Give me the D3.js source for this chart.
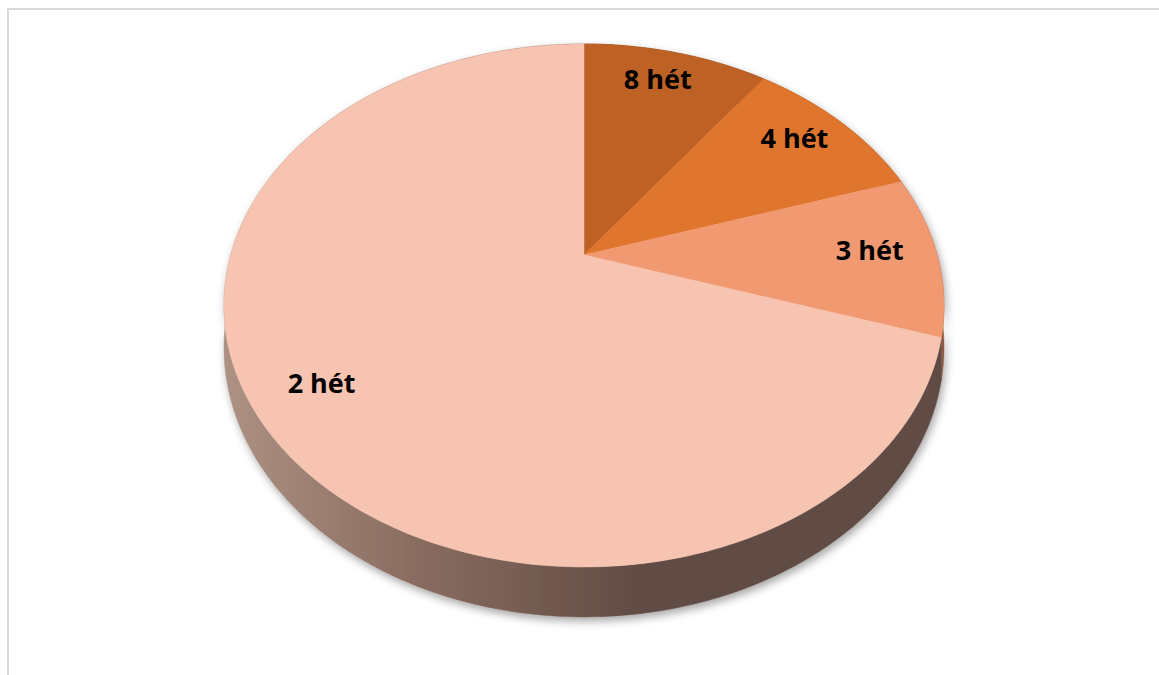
<!DOCTYPE html>
<html>
<head>
<meta charset="utf-8">
<script src="https://cdn.jsdelivr.net/npm/d3@7"></script>
<style>
  body { margin: 0; background: #fff; }
  text { font-family: "Open Sans", "Noto Sans", sans-serif; font-weight: 700; }
</style>
</head>
<body>
<div id="viz"></div>
<script>
// chart data
const labels = ["8 hét", "4 hét", "3 hét", "2 hét"];
const values = [1, 1, 1, 7];
const colors = ["#bd6125", "#e0752d", "#f19a72", "#f6c4b0"];
const sideColors = ["#7a4420", "#8a4a22", "#8e5a44", null];

const width = 1159, height = 675;

const svg = d3.select("#viz")
  .append("svg")
    .attr("width", width)
    .attr("height", height);

// chart frame
svg.append("rect")
  .attr("x", 8).attr("y", 9)
  .attr("width", 1170).attr("height", 700)
  .attr("fill", "#fff")
  .attr("stroke", "#d9d9d9")
  .attr("stroke-width", 2);

const defs = svg.append("defs");

const shadow = defs.append("filter")
  .attr("id", "shadow")
  .attr("x", "-10%").attr("y", "-10%")
  .attr("width", "120%").attr("height", "130%");
shadow.append("feDropShadow")
  .attr("dx", 2).attr("dy", 4)
  .attr("stdDeviation", 4)
  .attr("flood-color", "#000")
  .attr("flood-opacity", 0.35);

const grad = defs.append("linearGradient")
  .attr("id", "sideGrad")
  .attr("gradientUnits", "userSpaceOnUse")
  .attr("x1", 224).attr("x2", 640)
  .attr("y1", 0).attr("y2", 0);
grad.append("stop").attr("offset", 0).attr("stop-color", "#ad9183");
grad.append("stop").attr("offset", 0.45).attr("stop-color", "#8a6d61");
grad.append("stop").attr("offset", 1).attr("stop-color", "#614c44");

// perspective projection of the pie disc
const cx = 584, cy = 255;
const A = 1830, B = 1304, D = 5.18, H = 209;

// angle (0 = top, clockwise), radius fraction -> screen
const proj = (a, r, drop) => {
  const u = r * Math.sin(a), v = -r * Math.cos(a);
  const w = D - v;
  return [cx + A * u / w, cy + B * v / w + (drop ? H / w : 0)];
};

const pie = d3.pie().sort(null).value(d => d.value);
const arcs = pie(labels.map((l, i) => ({label: l, value: values[i], i: i})));

const arcPoints = (a0, a1, drop) => {
  const n = Math.max(8, Math.ceil((a1 - a0) * 60));
  return d3.range(n + 1).map(k => proj(a0 + (a1 - a0) * k / n, 1, drop));
};

const line = d3.line();

// sides (only front half is visible, the top faces cover the rest)
const sides = svg.append("g").attr("filter", "url(#shadow)");
arcs.forEach(d => {
  const top = arcPoints(d.startAngle, d.endAngle, false);
  const bot = arcPoints(d.startAngle, d.endAngle, true).reverse();
  sides.append("path")
    .attr("d", line(top.concat(bot)) + "Z")
    .attr("fill", sideColors[d.data.i] || "url(#sideGrad)")
    .attr("stroke", sideColors[d.data.i] || "url(#sideGrad)")
    .attr("stroke-width", 0.5);
});

// top faces
const tops = svg.append("g");
arcs.forEach(d => {
  const pts = [proj(0, 0, false)].concat(arcPoints(d.startAngle, d.endAngle, false));
  tops.append("path")
    .attr("d", line(pts) + "Z")
    .attr("fill", colors[d.data.i])
    .attr("stroke", colors[d.data.i])
    .attr("stroke-width", 0.5);
});

// labels
svg.append("g")
  .selectAll("text")
  .data(arcs)
  .join("text")
    .attr("x", d => proj((d.startAngle + d.endAngle) / 2, 0.82, false)[0] - 4)
    .attr("y", d => proj((d.startAngle + d.endAngle) / 2, 0.82, false)[1] - 6)
    .attr("text-anchor", "middle")
    .attr("dominant-baseline", "central")
    .attr("font-size", 27)
    .attr("fill", "#000")
    .text(d => d.data.label);
</script>
</body>
</html>
